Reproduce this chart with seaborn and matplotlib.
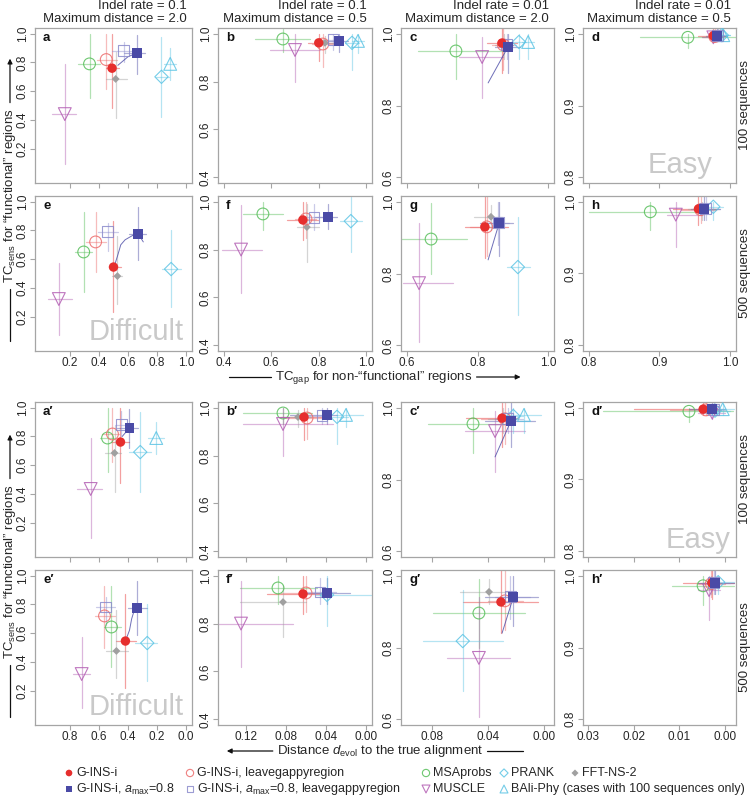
import numpy as np
import pandas as pd
import matplotlib
matplotlib.use("Agg")
import matplotlib.pyplot as plt
from matplotlib.lines import Line2D
from matplotlib.patches import FancyArrowPatch
import seaborn as sns

nan = np.nan

# ---------------- data (method order below) ----------------
METHOD_KEYS = ["gi", "gil", "ga", "gal", "msa", "mus", "prk", "fft", "bal"]

# Panel a  (indel 0.1, max dist 2.0, 100 seqs) : TCgap vs TCsens
A_X   = [0.49, 0.45, 0.66, 0.57, 0.335, 0.165, 0.83, 0.515, 0.89]
A_XLO = [0.445, 0.385, 0.575, 0.49, 0.255, 0.075, 0.79, 0.45, 0.85]
A_XHI = [0.535, 0.525, 0.72, 0.66, 0.405, 0.245, 0.88, 0.59, 0.93]
A_Y   = [0.76, 0.82, 0.865, 0.88, 0.79, 0.44, 0.70, 0.685, 0.79]
A_YLO = [0.48, 0.615, 0.72, 0.80, 0.55, 0.09, 0.42, 0.415, 0.68]
A_YHI = [1.0, 1.0, 0.99, 0.94, 1.0, 0.79, 0.98, 0.87, 0.90]

B_X   = [0.80, 0.817, 0.885, 0.86, 0.649, 0.70, 0.94, 0.826, 0.965]
B_XLO = [0.755, 0.77, 0.84, 0.82, 0.532, 0.595, 0.91, 0.79, 0.94]
B_XHI = [0.86, 0.86, 0.923, 0.90, 0.763, 0.805, 0.97, 0.86, 0.99]
B_Y   = [0.962, 0.957, 0.97, 0.974, 0.978, 0.932, 0.962, 0.962, 0.97]
B_YLO = [0.886, 0.86, 0.924, 0.93, 0.924, 0.80, 0.85, 0.92, 0.92]
B_YHI = [1.0, 1.0, 1.0, 1.0, 1.02, 1.0, 1.0, 0.99, 1.0]

C_X   = [0.869, 0.873, 0.886, 0.883, 0.739, 0.813, 0.917, 0.875, 0.943]
C_XLO = [0.827, 0.84, 0.85, 0.86, 0.632, 0.748, 0.895, 0.85, 0.925]
C_XHI = [0.912, 0.90, 0.92, 0.91, 0.872, 0.872, 0.938, 0.90, 0.96]
C_Y   = [0.974, 0.969, 0.963, 0.969, 0.952, 0.935, 0.977, 0.97, 0.977]
C_YLO = [0.89, 0.90, 0.89, 0.93, 0.874, 0.82, 0.93, 0.93, 0.93]
C_YHI = [1.016, 1.016, 1.0, 1.0, 1.0, 0.99, 1.0, 1.0, 1.0]

D_X   = [0.976, 0.978, 0.981, 0.982, 0.940, 0.976, 0.988, 0.978, 0.990]
D_XLO = [0.954, 0.96, 0.965, 0.97, 0.872, 0.96, 0.975, 0.965, 0.98]
D_XHI = [0.992, 0.99, 0.995, 0.995, 1.008, 0.99, 1.0, 0.99, 1.0]
D_Y   = [0.997, 0.996, 0.997, 0.997, 0.995, 0.995, 0.998, 0.997, 0.998]
D_YLO = [0.99, 0.99, 0.99, 0.99, 0.98, 0.99, 0.99, 0.99, 0.99]
D_YHI = [1.008, 1.008, 1.008, 1.008, 1.0, 1.005, 1.005, 1.005, 1.005]

E_X   = [0.50, 0.377, 0.671, 0.46, 0.295, 0.124, 0.896, 0.527, nan]
E_XLO = [0.47, 0.31, 0.61, 0.39, 0.233, 0.049, 0.835, 0.49, nan]
E_XHI = [0.555, 0.45, 0.725, 0.53, 0.35, 0.213, 0.964, 0.56, nan]
E_Y   = [0.545, 0.72, 0.775, 0.79, 0.65, 0.322, 0.531, 0.482, nan]
E_YLO = [0.23, 0.51, 0.594, 0.66, 0.37, 0.07, 0.27, 0.29, nan]
E_YHI = [0.866, 0.93, 0.96, 0.85, 0.93, 0.573, 0.80, 0.76, nan]

F_X   = [0.733, 0.746, 0.839, 0.78, 0.565, 0.473, 0.935, 0.75, nan]
F_XLO = [0.666, 0.70, 0.784, 0.73, 0.481, 0.393, 0.89, 0.71, nan]
F_XHI = [0.797, 0.79, 0.877, 0.84, 0.649, 0.561, 0.98, 0.80, nan]
F_Y   = [0.924, 0.928, 0.936, 0.936, 0.949, 0.80, 0.919, 0.894, nan]
F_YLO = [0.84, 0.85, 0.885, 0.88, 0.882, 0.62, 0.79, 0.748, nan]
F_YHI = [1.0, 1.0, 0.99, 0.99, 1.0, 0.986, 1.02, 0.99, nan]

G_X   = [0.821, 0.826, 0.861, 0.858, 0.669, 0.635, 0.914, 0.838, nan]
G_XLO = [0.765, 0.78, 0.807, 0.82, 0.584, 0.589, 0.884, 0.79, nan]
G_XHI = [0.886, 0.87, 0.90, 0.89, 0.77, 0.731, 0.948, 0.87, nan]
G_Y   = [0.93, 0.93, 0.94, 0.941, 0.896, 0.773, 0.818, 0.958, nan]
G_YLO = [0.843, 0.85, 0.85, 0.88, 0.80, 0.61, 0.684, 0.92, nan]
G_YHI = [1.016, 1.016, 1.0, 1.0, 0.996, 0.94, 0.957, 0.99, nan]

H_X   = [0.955, 0.958, 0.963, 0.965, 0.887, 0.923, 0.976, 0.96, nan]
H_XLO = [0.919, 0.93, 0.945, 0.95, 0.80, 0.91, 0.96, 0.94, nan]
H_XHI = [0.981, 0.98, 0.985, 0.985, 0.953, 0.96, 0.99, 0.98, nan]
H_Y   = [0.99, 0.989, 0.99, 0.99, 0.986, 0.982, 0.993, 0.99, nan]
H_YLO = [0.967, 0.97, 0.975, 0.975, 0.96, 0.937, 0.975, 0.975, nan]
H_YHI = [1.008, 1.008, 1.008, 1.008, 1.0, 1.0, 1.0, 1.0, nan]

# Bottom block: distance d_evol (reversed axis) vs TCsens
AP_X   = [0.452, 0.507, 0.39, 0.446, 0.541, 0.657, 0.316, 0.493, 0.206]
AP_XLO = [0.39, 0.46, 0.33, 0.39, 0.493, 0.582, 0.24, 0.45, 0.15]
AP_XHI = [0.514, 0.58, 0.473, 0.49, 0.596, 0.753, 0.39, 0.56, 0.26]
AP_Y   = [0.761, 0.817, 0.86, 0.88, 0.789, 0.434, 0.691, 0.685, 0.789]
AP_YLO = [0.476, 0.62, 0.72, 0.80, 0.55, 0.092, 0.41, 0.41, 0.68]
AP_YHI = [1.0, 1.0, 0.99, 0.98, 1.0, 0.79, 0.97, 0.875, 0.90]

BP_X   = [0.062, 0.059, 0.039, 0.044, 0.083, 0.083, 0.029, 0.068, 0.020]
BP_XLO = [0.044, 0.045, 0.029, 0.035, 0.054, 0.033, 0.018, 0.055, 0.003]
BP_XHI = [0.086, 0.080, 0.076, 0.060, 0.123, 0.123, 0.040, 0.085, 0.030]
BP_Y   = [0.961, 0.957, 0.97, 0.966, 0.978, 0.932, 0.962, 0.961, 0.97]
BP_YLO = [0.865, 0.87, 0.93, 0.93, 0.93, 0.80, 0.85, 0.92, 0.92]
BP_YHI = [1.0, 1.0, 1.0, 1.0, 1.0, 1.0, 1.0, 0.99, 1.0]

CP_X   = [0.030, 0.028, 0.0237, 0.026, 0.0507, 0.035, 0.022, 0.029, 0.0144]
CP_XLO = [0.019, 0.020, 0.0066, 0.015, 0.0294, 0.0137, 0.015, 0.020, 0.002]
CP_XHI = [0.056, 0.045, 0.042, 0.035, 0.083, 0.0564, 0.030, 0.040, 0.027]
CP_Y   = [0.971, 0.969, 0.963, 0.97, 0.955, 0.935, 0.977, 0.97, 0.98]
CP_YLO = [0.89, 0.90, 0.89, 0.93, 0.874, 0.82, 0.93, 0.93, 0.93]
CP_YHI = [1.016, 1.016, 1.016, 1.0, 1.0, 0.99, 1.0, 1.0, 1.0]

DP_X   = [0.0048, 0.0042, 0.0028, 0.0025, 0.0079, 0.0028, 0.0022, 0.004, 0.0005]
DP_XLO = [0.0015, 0.001, 0.0, 0.0, -0.0018, 0.0, -0.001, 0.001, -0.002]
DP_XHI = [0.020, 0.012, 0.008, 0.006, 0.0267, 0.006, 0.005, 0.008, 0.002]
DP_Y   = [0.998, 0.997, 0.998, 0.997, 0.995, 0.993, 0.996, 0.997, 0.998]
DP_YLO = [0.99, 0.99, 0.99, 0.99, 0.98, 0.985, 0.99, 0.99, 0.99]
DP_YHI = [1.008, 1.008, 1.008, 1.008, 1.0, 1.005, 1.005, 1.005, 1.005]

EP_X   = [0.418, 0.562, 0.336, 0.555, 0.514, 0.719, 0.268, 0.48, nan]
EP_XLO = [0.343, 0.49, 0.27, 0.49, 0.446, 0.664, 0.20, 0.40, nan]
EP_XHI = [0.48, 0.63, 0.40, 0.62, 0.568, 0.78, 0.35, 0.55, nan]
EP_Y   = [0.545, 0.72, 0.775, 0.782, 0.643, 0.315, 0.531, 0.476, nan]
EP_YLO = [0.218, 0.50, 0.59, 0.66, 0.364, 0.078, 0.27, 0.29, nan]
EP_YHI = [0.87, 0.93, 0.96, 0.85, 0.93, 0.573, 0.80, 0.76, nan]

FP_X   = [0.063, 0.060, 0.039, 0.046, 0.088, 0.125, 0.039, 0.083, nan]
FP_XLO = [0.036, 0.040, 0.016, 0.030, 0.049, 0.073, -0.005, 0.060, nan]
FP_XHI = [0.099, 0.085, 0.066, 0.060, 0.126, 0.149, 0.050, 0.126, nan]
FP_Y   = [0.924, 0.928, 0.928, 0.932, 0.949, 0.80, 0.92, 0.89, nan]
FP_YLO = [0.84, 0.85, 0.88, 0.88, 0.88, 0.62, 0.79, 0.745, nan]
FP_YHI = [1.0, 1.0, 0.99, 0.99, 1.0, 0.98, 1.0, 0.96, nan]

GP_X   = [0.0308, 0.028, 0.022, 0.024, 0.0465, 0.0465, 0.058, 0.0393, nan]
GP_XLO = [0.0045, 0.015, 0.0045, 0.010, 0.0137, 0.0244, 0.0294, 0.020, nan]
GP_XHI = [0.058, 0.040, 0.042, 0.035, 0.079, 0.069, 0.086, 0.060, nan]
GP_Y   = [0.927, 0.93, 0.94, 0.941, 0.896, 0.771, 0.818, 0.955, nan]
GP_YLO = [0.84, 0.85, 0.86, 0.88, 0.80, 0.606, 0.68, 0.92, nan]
GP_YHI = [1.016, 1.016, 1.0, 1.0, 0.99, 0.94, 0.96, 0.99, nan]

HP_X   = [0.0029, 0.003, 0.0022, 0.0025, 0.0048, 0.0035, 0.0015, 0.003, nan]
HP_XLO = [-0.002, 0.0, -0.002, -0.001, -0.002, 0.001, -0.002, 0.001, nan]
HP_XHI = [0.0092, 0.006, 0.006, 0.005, 0.0116, 0.006, 0.003, 0.005, nan]
HP_Y   = [0.99, 0.989, 0.99, 0.99, 0.986, 0.98, 0.991, 0.99, nan]
HP_YLO = [0.967, 0.97, 0.975, 0.975, 0.959, 0.938, 0.975, 0.975, nan]
HP_YHI = [1.008, 1.008, 1.008, 1.008, 1.0, 1.0, 1.0, 1.0, nan]

# thin connector curves (G-INS-i trajectory)
CONN_A_X = [0.66, 0.60, 0.53];            CONN_A_Y = [0.865, 0.84, 0.78]
CONN_C_X = [0.886, 0.83];                 CONN_C_Y = [0.963, 0.863]
CONN_E_X = [0.505, 0.53, 0.55, 0.58, 0.64, 0.671, 0.705]
CONN_E_Y = [0.55, 0.63, 0.70, 0.735, 0.77, 0.775, 0.72]
CONN_G_X = [0.861, 0.83];                 CONN_G_Y = [0.94, 0.838]
CONN_AP_X = [0.39, 0.44];                 CONN_AP_Y = [0.86, 0.80]
CONN_CP_X = [0.0237, 0.035];              CONN_CP_Y = [0.963, 0.863]
CONN_EP_X = [0.336, 0.36, 0.375, 0.39, 0.418]
CONN_EP_Y = [0.775, 0.75, 0.70, 0.62, 0.545]
CONN_GP_X = [0.022, 0.030];               CONN_GP_Y = [0.94, 0.84]

COLUMN_TITLES_1 = ["Indel rate = 0.1", "Indel rate = 0.1", "Indel rate = 0.01", "Indel rate = 0.01"]
COLUMN_TITLES_2 = ["Maximum distance = 2.0", "Maximum distance = 0.5",
                   "Maximum distance = 2.0", "Maximum distance = 0.5"]
Y_TICKS = [[0.2, 0.4, 0.6, 0.8, 1.0], [0.4, 0.6, 0.8, 1.0], [0.6, 0.8, 1.0], [0.8, 0.9, 1.0]]
X_TICKS_TOP = Y_TICKS
X_TICKS_BOTTOM = [[0.8, 0.6, 0.4, 0.2, 0.0], [0.12, 0.08, 0.04, 0.0], [0.08, 0.04, 0.0],
                  [0.03, 0.02, 0.01, 0.0]]
X_FMT_BOTTOM = ["{:.1f}", "{:.2f}", "{:.2f}", "{:.2f}"]

LEGEND_ROW1 = [("gi", "G-INS-i"), ("gil", "G-INS-i, leavegappyregion"), ("msa", "MSAprobs"),
               ("prk", "PRANK"), ("fft", "FFT-NS-2")]
LEGEND_ROW2 = [("ga", r"G-INS-i, $a_{\mathrm{max}}$=0.8"),
               ("gal", r"G-INS-i, $a_{\mathrm{max}}$=0.8, leavegappyregion"),
               ("mus", "MUSCLE"), ("bal", "BAli-Phy (cases with 100 sequences only)")]

# ---------------- style ----------------
sns.set_theme(style="ticks")
plt.rcParams["font.family"] = ["Liberation Sans", "DejaVu Sans"]
plt.rcParams["mathtext.fontset"] = "custom"
plt.rcParams["mathtext.rm"] = "Liberation Sans"
plt.rcParams["mathtext.it"] = "Liberation Sans:italic"
plt.rcParams["mathtext.bf"] = "Liberation Sans:bold"

COLORS = {"gi": "#E62E2D", "gil": "#EC6B6B", "ga": "#4A4AA6", "gal": "#8B8BCC",
          "msa": "#55BE58", "mus": "#B35EB3", "prk": "#5CC4E4", "fft": "#A0A0A0",
          "bal": "#5CC4E4"}
# marker, size, filled, linewidth
MSTYLE = {"gi": ("o", 46, True, 0), "gil": ("o", 72, False, 0.8),
          "ga": ("s", 50, True, 0), "gal": ("s", 62, False, 0.8),
          "msa": ("o", 72, False, 0.8), "mus": ("v", 85, False, 0.8),
          "prk": ("D", 46, False, 0.8), "fft": ("D", 16, True, 0),
          "bal": ("^", 85, False, 0.8)}
DRAW_ORDER = ["msa", "mus", "prk", "bal", "fft", "gil", "gal", "gi", "ga"]

W, H = 752, 797
fig = plt.figure(figsize=(W / 100, H / 100), dpi=100)


def fx(px):
    return px / W


def fy(py):
    return 1 - py / H


COL_X = [35, 218, 401, 583]
COL_W = [157, 154, 153, 153]
ROW_Y = [28, 196, 402, 570]
AX_H = 155

TOP_LIMS = [(-0.04, 1.04), (0.376, 1.024), (0.584, 1.016), (0.792, 1.008)]
BOT_XLIMS = [(1.04, -0.04), (0.148, -0.006), (0.102, -0.007), (0.0311, -0.0024)]

PANELS = [
    # (row, col, label, data, connector)
    (0, 0, "a", (A_X, A_XLO, A_XHI, A_Y, A_YLO, A_YHI), (CONN_A_X, CONN_A_Y)),
    (0, 1, "b", (B_X, B_XLO, B_XHI, B_Y, B_YLO, B_YHI), None),
    (0, 2, "c", (C_X, C_XLO, C_XHI, C_Y, C_YLO, C_YHI), (CONN_C_X, CONN_C_Y)),
    (0, 3, "d", (D_X, D_XLO, D_XHI, D_Y, D_YLO, D_YHI), None),
    (1, 0, "e", (E_X, E_XLO, E_XHI, E_Y, E_YLO, E_YHI), (CONN_E_X, CONN_E_Y)),
    (1, 1, "f", (F_X, F_XLO, F_XHI, F_Y, F_YLO, F_YHI), None),
    (1, 2, "g", (G_X, G_XLO, G_XHI, G_Y, G_YLO, G_YHI), (CONN_G_X, CONN_G_Y)),
    (1, 3, "h", (H_X, H_XLO, H_XHI, H_Y, H_YLO, H_YHI), None),
    (2, 0, "a\u2032", (AP_X, AP_XLO, AP_XHI, AP_Y, AP_YLO, AP_YHI), (CONN_AP_X, CONN_AP_Y)),
    (2, 1, "b\u2032", (BP_X, BP_XLO, BP_XHI, BP_Y, BP_YLO, BP_YHI), None),
    (2, 2, "c\u2032", (CP_X, CP_XLO, CP_XHI, CP_Y, CP_YLO, CP_YHI), (CONN_CP_X, CONN_CP_Y)),
    (2, 3, "d\u2032", (DP_X, DP_XLO, DP_XHI, DP_Y, DP_YLO, DP_YHI), None),
    (3, 0, "e\u2032", (EP_X, EP_XLO, EP_XHI, EP_Y, EP_YLO, EP_YHI), (CONN_EP_X, CONN_EP_Y)),
    (3, 1, "f\u2032", (FP_X, FP_XLO, FP_XHI, FP_Y, FP_YLO, FP_YHI), None),
    (3, 2, "g\u2032", (GP_X, GP_XLO, GP_XHI, GP_Y, GP_YLO, GP_YHI), (CONN_GP_X, CONN_GP_Y)),
    (3, 3, "h\u2032", (HP_X, HP_XLO, HP_XHI, HP_Y, HP_YLO, HP_YHI), None),
]

EDGE = "#A5A5A5"
TXT = "#262626"


def scatter_method(ax, xs, ys, key, scale=1.0):
    mk, s, filled, lw = MSTYLE[key]
    c = COLORS[key]
    df = pd.DataFrame({"x": xs, "y": ys}).dropna()
    if df.empty:
        return
    if filled:
        sns.scatterplot(data=df, x="x", y="y", marker=mk, s=s * scale, color=c,
                        edgecolor="none", linewidth=0, ax=ax, zorder=5, legend=False)
    else:
        sns.scatterplot(data=df, x="x", y="y", marker=mk, s=s * scale, color=c,
                        facecolors="none", edgecolor=c, linewidth=lw, alpha=0.85,
                        ax=ax, zorder=5, legend=False)


for row, col, label, data, conn in PANELS:
    X, XLO, XHI, Y, YLO, YHI = data
    ax = fig.add_axes([fx(COL_X[col]), fy(ROW_Y[row] + AX_H), COL_W[col] / W, AX_H / H])
    # error bars
    for i, key in enumerate(METHOD_KEYS):
        if np.isnan(X[i]):
            continue
        c = COLORS[key]
        ax.plot([XLO[i], XHI[i]], [Y[i], Y[i]], color=c, alpha=0.45, lw=0.9, zorder=1)
        ax.plot([X[i], X[i]], [YLO[i], YHI[i]], color=c, alpha=0.45, lw=0.9, zorder=1)
    if conn is not None:
        sns.lineplot(x=conn[0], y=conn[1], sort=False, color=COLORS["ga"], lw=0.7,
                     alpha=0.8, ax=ax, zorder=2)
    for key in DRAW_ORDER:
        i = METHOD_KEYS.index(key)
        scatter_method(ax, [X[i]], [Y[i]], key)

    ax.set_xlabel("")
    ax.set_ylabel("")
    ylim = TOP_LIMS[col]
    ax.set_ylim(*ylim)
    yt = Y_TICKS[col]
    ax.set_yticks(yt)
    ax.set_yticklabels(["{:.1f}".format(v) for v in yt], rotation=90, va="center")
    if row < 2:
        ax.set_xlim(*TOP_LIMS[col])
        xt = X_TICKS_TOP[col]
        ax.set_xticks(xt)
        ax.set_xticklabels(["{:.1f}".format(v) for v in xt])
    else:
        ax.set_xlim(*BOT_XLIMS[col])
        xt = X_TICKS_BOTTOM[col]
        ax.set_xticks(xt)
        ax.set_xticklabels([X_FMT_BOTTOM[col].format(v) for v in xt])
    for sp in ax.spines.values():
        sp.set_color(EDGE)
        sp.set_linewidth(0.9)
    ax.tick_params(axis="both", direction="out", length=3.5, width=0.8, color=EDGE,
                   labelcolor=TXT, labelsize=8.5, pad=1, bottom=True, left=True,
                   top=False, right=False)
    if row in (0, 2):
        ax.tick_params(axis="x", labelbottom=False)
    ax.text(8 / COL_W[col], 1 - 10 / AX_H, label, transform=ax.transAxes, ha="left",
            va="center", fontsize=9.5, fontweight="bold", color="#111111")

# ----- Easy / Difficult -----
fig.text(fx(712), fy(173), "Easy", ha="right", va="baseline", fontsize=21, color="#C9C9C9")
fig.text(fx(731), fy(548), "Easy", ha="right", va="baseline", fontsize=21, color="#C9C9C9")
fig.text(fx(184), fy(340), "Difficult", ha="right", va="baseline", fontsize=21, color="#C9C9C9")
fig.text(fx(184), fy(715), "Difficult", ha="right", va="baseline", fontsize=21, color="#C9C9C9")

# ----- column titles -----
for col in range(4):
    right = COL_X[col] + COL_W[col] - 5
    fig.text(fx(right), fy(6), COLUMN_TITLES_1[col], ha="right", va="center", fontsize=9.5,
             color=TXT)
    fig.text(fx(right), fy(19), COLUMN_TITLES_2[col], ha="right", va="center", fontsize=9.5,
             color=TXT)

# ----- row labels on right -----
for row, txt in zip(range(4), ["100 sequences", "500 sequences", "100 sequences", "500 sequences"]):
    fig.text(fx(745), fy(ROW_Y[row] + AX_H / 2), txt, rotation=90, ha="center", va="center",
             fontsize=9.5, color=TXT)

renderer = fig.canvas.get_renderer()


def add_line(p0, p1, arrow=False):
    if arrow:
        a = FancyArrowPatch((fx(p0[0]), fy(p0[1])), (fx(p1[0]), fy(p1[1])),
                            transform=fig.transFigure, arrowstyle="-|>", mutation_scale=7,
                            lw=0.9, color="#111111", shrinkA=0, shrinkB=0)
        fig.add_artist(a)
    else:
        fig.add_artist(Line2D([fx(p0[0]), fx(p1[0])], [fy(p0[1]), fy(p1[1])],
                              transform=fig.transFigure, lw=0.9, color="#111111"))


# y labels (vertical)
YLAB = "TC$_{\\mathrm{sens}}$ for \u201cfunctional\u201d regions"
for cy in [196, 572]:
    t = fig.text(fx(10), fy(cy), YLAB, rotation=90, ha="center", va="center", fontsize=9.5,
                 color=TXT)
    bb = t.get_window_extent(renderer)
    top_px = H - bb.y1
    bot_px = H - bb.y0
    add_line((10, bot_px + 6), (10, bot_px + 58))
    add_line((10, top_px - 6), (10, top_px - 50), arrow=True)

# x labels (horizontal)
XLAB_TOP = "TC$_{\\mathrm{gap}}$ for non-\u201cfunctional\u201d regions"
t = fig.text(fx(374), fy(377), XLAB_TOP, ha="center", va="center", fontsize=9.5, color=TXT)
bb = t.get_window_extent(renderer)
add_line((bb.x0 - 46, 377), (bb.x0 - 4, 377))
add_line((bb.x1 + 4, 377), (bb.x1 + 48, 377), arrow=True)

XLAB_BOT = "Distance $d_{\\mathrm{evol}}$ to the true alignment"
t = fig.text(fx(380), fy(751), XLAB_BOT, ha="center", va="center", fontsize=9.5, color=TXT)
bb = t.get_window_extent(renderer)
add_line((bb.x0 - 4, 751), (bb.x0 - 50, 751), arrow=True)
add_line((bb.x1 + 4, 751), (bb.x1 + 40, 751))

# ----- legend (bottom) -----
lax = fig.add_axes([0, 0, 1, 1])
lax.set_xlim(0, W)
lax.set_ylim(H, 0)
lax.axis("off")
LEG_X = [69, 190, 426, 504, 575]
LEG_SCALE = {"gi": 0.5, "ga": 0.5, "fft": 0.8}
for yrow, entries in [(773, LEGEND_ROW1), (789, LEGEND_ROW2)]:
    for j, (key, txt) in enumerate(entries):
        x0 = LEG_X[j]
        scatter_method(lax, [x0], [yrow], key, scale=LEG_SCALE.get(key, 0.38))
        lax.text(x0 + 7, yrow, txt, ha="left", va="center", fontsize=9, color=TXT)
lax.set_xlim(0, W)
lax.set_ylim(H, 0)
lax.set_xlabel("")
lax.set_ylabel("")

fig.savefig("out.png", dpi=100)
